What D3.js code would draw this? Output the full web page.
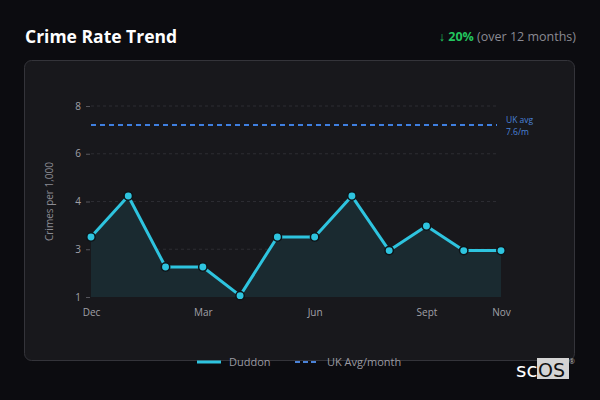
<!DOCTYPE html>
<html>
  <head>
    <meta charset="utf-8">
    <title>Crime Rate Trend</title>
    <script src="https://d3js.org/d3.v7.min.js"></script>
    <style>
      html, body {
        margin: 0;
        padding: 0;
        background: #0c0c10;
      }
      svg {
        display: block;
        font-family: "Open Sans", "Noto Sans", sans-serif;
      }
    </style>
  </head>
  <body>
    <svg id="chart" width="600" height="400"></svg>
    <script>
      // chart data
      var months = ["Dec", "Jan", "Feb", "Mar", "Apr", "May", "Jun", "Jul", "Aug", "Sept", "Oct", "Nov"];
      var duddon = [3.2, 4.7, 2.1, 2.1, 1.05, 3.2, 3.2, 4.7, 2.7, 3.6, 2.7, 2.7];
      var ukAvgLine = 7.3;
      var ukAvgLabel = ["UK avg", "7.6/m"];
      var xTickLabels = ["Dec", "Mar", "Jun", "Sept", "Nov"];
      var yTickValues = [1, 2.75, 4.5, 6.25, 8];
      var yTickLabels = ["1", "3", "4", "6", "8"];
      var legendItems = ["Duddon", "UK Avg/month"];

      var plot = { left: 91, right: 501, top: 106, bottom: 297 };

      var svg = d3.select("#chart");

      // header
      svg.append("text")
        .attr("x", 25)
        .attr("y", 43)
        .attr("fill", "#ffffff")
        .attr("font-size", 17.5)
        .attr("font-weight", "bold")
        .text("Crime Rate Trend");

      var change = svg.append("text")
        .attr("x", 576)
        .attr("y", 41)
        .attr("text-anchor", "end")
        .attr("font-size", 12.5);
      change.append("tspan")
        .attr("fill", "#22c55e")
        .attr("font-weight", "bold")
        .text("\u2193 20%");
      change.append("tspan")
        .attr("fill", "#8a8a92")
        .text(" (over 12 months)");

      // card
      svg.append("rect")
        .attr("x", 24.5)
        .attr("y", 60.5)
        .attr("width", 550)
        .attr("height", 300)
        .attr("rx", 7)
        .attr("fill", "#18181c")
        .attr("stroke", "#34343a")
        .attr("stroke-width", 1);

      // scales
      var x = d3.scalePoint()
        .domain(months)
        .range([plot.left, plot.right]);
      var y = d3.scaleLinear()
        .domain([1, 8])
        .range([plot.bottom, plot.top]);

      // grid
      svg.append("g")
        .selectAll("line")
        .data(yTickValues.slice(1))
        .enter()
        .append("line")
        .attr("x1", plot.left)
        .attr("x2", plot.right - 4)
        .attr("y1", function (d) { return y(d); })
        .attr("y2", function (d) { return y(d); })
        .attr("stroke", "#2c2c32")
        .attr("stroke-dasharray", "3,3");

      // y axis
      var yAxis = d3.axisLeft(y)
        .tickValues(yTickValues)
        .tickSize(4)
        .tickPadding(5)
        .tickFormat(function (d, i) { return yTickLabels[i]; });
      var yg = svg.append("g")
        .attr("transform", "translate(" + (plot.left - 1) + ",0)")
        .call(yAxis);
      yg.select(".domain").remove();
      yg.selectAll(".tick line").attr("stroke", "#55555c");
      yg.selectAll(".tick text")
        .attr("fill", "#a0a0a8")
        .attr("font-size", 10)
        .attr("font-family", "Open Sans, sans-serif");

      svg.append("text")
        .attr("transform", "translate(53," + ((plot.top + plot.bottom) / 2) + ") rotate(-90)")
        .attr("text-anchor", "middle")
        .attr("fill", "#8a8a92")
        .attr("font-size", 10)
        .text("Crimes per 1,000");

      // x axis
      var xAxis = d3.axisBottom(x)
        .tickValues(xTickLabels)
        .tickSize(0)
        .tickPadding(12);
      var xg = svg.append("g")
        .attr("transform", "translate(0," + plot.bottom + ")")
        .call(xAxis);
      xg.select(".domain").remove();
      xg.selectAll(".tick text")
        .attr("fill", "#a0a0a8")
        .attr("font-size", 10)
        .attr("font-family", "Open Sans, sans-serif");

      // area + line
      var series = months.map(function (m, i) { return { month: m, value: duddon[i] }; });

      var area = d3.area()
        .x(function (d) { return x(d.month); })
        .y0(y(1))
        .y1(function (d) { return y(d.value); });
      svg.append("path")
        .datum(series)
        .attr("d", area)
        .attr("fill", "#1a2a30");

      var line = d3.line()
        .x(function (d) { return x(d.month); })
        .y(function (d) { return y(d.value); });
      svg.append("path")
        .datum(series)
        .attr("d", line)
        .attr("fill", "none")
        .attr("stroke", "#2ec4df")
        .attr("stroke-width", 3)
        .attr("stroke-linejoin", "round");

      svg.append("g")
        .selectAll("circle")
        .data(series)
        .enter()
        .append("circle")
        .attr("cx", function (d) { return x(d.month); })
        .attr("cy", function (d) { return y(d.value); })
        .attr("r", 4.2)
        .attr("fill", "#2ec4df")
        .attr("stroke", "#0e1418")
        .attr("stroke-width", 1.5);

      // UK average
      svg.append("line")
        .attr("x1", plot.left)
        .attr("x2", plot.right - 4)
        .attr("y1", y(ukAvgLine))
        .attr("y2", y(ukAvgLine))
        .attr("stroke", "#3f7fe0")
        .attr("stroke-width", 2)
        .attr("stroke-dasharray", "5,4");

      svg.append("g")
        .selectAll("text")
        .data(ukAvgLabel)
        .enter()
        .append("text")
        .attr("x", 506)
        .attr("y", function (d, i) { return y(ukAvgLine) - 2 + i * 12; })
        .attr("fill", "#4a82d8")
        .attr("font-size", 8.5)
        .text(function (d) { return d; });

      // legend
      var legend = svg.append("g").attr("transform", "translate(197,362)");
      legend.append("line")
        .attr("x1", 0).attr("x2", 24)
        .attr("y1", 0).attr("y2", 0)
        .attr("stroke", "#2ec4df")
        .attr("stroke-width", 3);
      legend.append("text")
        .attr("x", 32).attr("y", 4)
        .attr("fill", "#9a9aa2")
        .attr("font-size", 11)
        .text(legendItems[0]);
      legend.append("line")
        .attr("x1", 98).attr("x2", 122)
        .attr("y1", 0).attr("y2", 0)
        .attr("stroke", "#4a82d8")
        .attr("stroke-width", 2)
        .attr("stroke-dasharray", "5,3");
      legend.append("text")
        .attr("x", 130).attr("y", 4)
        .attr("fill", "#9a9aa2")
        .attr("font-size", 11)
        .text(legendItems[1]);

      // logo
      var logo = svg.append("g");
      logo.append("rect")
        .attr("x", 537).attr("y", 358)
        .attr("width", 32).attr("height", 21)
        .attr("fill", "#d4d4d4");
      logo.append("text")
        .attr("x", 516).attr("y", 377)
        .attr("fill", "#ffffff")
        .attr("font-size", 20)
        .attr("font-family", "DejaVu Sans, sans-serif")
        .text("sc");
      logo.append("text")
        .attr("x", 538).attr("y", 377)
        .attr("fill", "#111111")
        .attr("font-size", 19)
        .attr("font-family", "DejaVu Sans, sans-serif")
        .text("OS");
      logo.append("text")
        .attr("x", 569).attr("y", 364)
        .attr("fill", "#bbbbbb")
        .attr("font-size", 7)
        .text("\u00ae");
    </script>
  </body>
</html>
